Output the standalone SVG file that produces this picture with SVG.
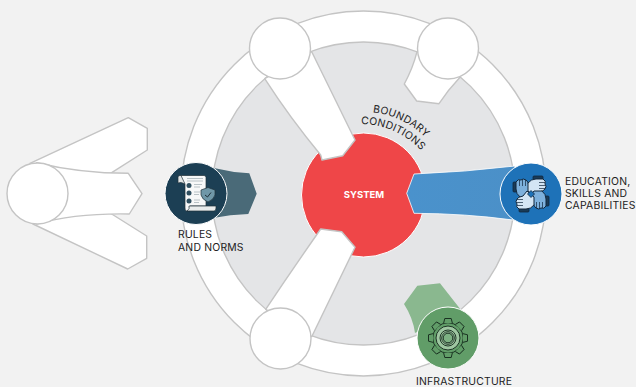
<svg xmlns="http://www.w3.org/2000/svg" width="636" height="387" viewBox="0 0 636 387">
<style>
.w{fill:#fff;stroke:#c4c4c4;stroke-width:1.4;stroke-linejoin:round}
.t{font-family:"Inter","Liberation Sans",sans-serif;font-size:10.400px;fill:#222;letter-spacing:.2px}
.c{fill:#1a3b57;stroke:#10263c;stroke-width:.8}
.ln{stroke:#b9c2c6;stroke-width:1;fill:none}
.g{fill:none;stroke:#12261a;stroke-width:.9}
.f{stroke:#10263c;stroke-width:.7;fill:none}
</style>
<defs>
<linearGradient id="eg" x1="0" x2="1" y1="0" y2="0"><stop offset="0" stop-color="#4a92cc"/><stop offset="1" stop-color="#4b90c8"/></linearGradient>
<g id="hand">
<rect class="c" x="-18" y="-12" width="3.500" height="10" rx="1"/>
<path stroke="#10263c" stroke-width="1" stroke-linejoin="round" d="M-15,-12 Q-13,-15.500 -10,-14 Q-8,-16 -5,-14 Q-3,-13 -2,-8 L3,-4 L-3,3 L-11,3 Q-15,0 -15,-5z"/>
<path class="f" d="M-11.500,-14 V-8 M-8.500,-14.500 V-8 M-5.500,-14 V-8"/>
</g>
<path id="tooth" d="M-4.400,-14.800 L-3.200,-19.500 L3.200,-19.500 L4.400,-14.800" fill="#619d68" stroke="#12261a" stroke-width=".9" stroke-linejoin="round"/>
</defs>
<rect width="636" height="387" fill="#f2f2f2"/>
<g id="boundary-ring">
<circle cx="363.500" cy="193.500" r="182.500" fill="#fff" stroke="#c4c4c4" stroke-width="1.400"/>
<circle cx="363.500" cy="193.500" r="151.500" fill="#e4e5e7" stroke="#c4c4c4" stroke-width="1.400"/>
</g>
<g id="system">
<circle cx="363.500" cy="195" r="62" fill="#ef4648" stroke="#fff" stroke-width="1"/>
<text x="364" y="198" text-anchor="middle" font-family="Inter,'Liberation Sans',sans-serif" font-size="9.500px" font-weight="700" fill="#fff">SYSTEM</text>
</g>
<g id="connectors">
<path class="w" d="M264.700,78.700 Q290,118 320.700,155 L322,160 L342.700,155.700 L355,140 L311.700,51.700z"/>
<path class="w" d="M417,51.700 Q413,68 404.300,84 L416.700,101 L439,103.700 Q448,90 460,77.300z"/>
<path class="w" d="M265.700,309.300 Q292,270 320.700,229 L341.700,231.700 L355,247.300 L311.700,336.700z"/>
<path class="w" d="M30,163.300 L128.300,117.700 L147.300,128.300 L147.300,150 L111.700,172.700 L80,190 L33,224 L127.700,269 L146.700,258.300 L146.700,236 L111.700,214 L60,190z"/>
<path class="w" d="M36.700,162.700 Q80,173.300 128.300,173.300 L142,193.700 L129.300,214 Q75,213 36.700,224z"/>
<path fill="#4a6a78" d="M215,168.300 Q232,172.500 249.300,173.300 L256.700,193.700 L248.300,214 Q230,214.500 213,218z"/>
<path fill="url(#eg)" stroke="#fff" stroke-width=".8" d="M414,174 L406.700,193.300 L414,213.300 Q465,213.500 513,220 L515,166 Q465,172 414,174z"/>
<path fill="#8ab88f" d="M404,304 L417.300,285.700 L440,283.300 L461,310 L415,333 Q413,318 404,304z"/>
</g>
<g id="top-left-node"><circle class="w" cx="280" cy="48.500" r="30.500"/></g>
<g id="top-right-node"><circle class="w" cx="448" cy="48.500" r="30.500"/></g>
<g id="bottom-left-node"><circle class="w" cx="280.500" cy="338.500" r="30.500"/></g>
<g id="left-node"><circle class="w" cx="37.500" cy="193.500" r="30.500"/></g>
<g id="rules">
<circle cx="196" cy="193.500" r="31" fill="#1c3f54" stroke="#fff" stroke-width="1"/>
<path d="M178,183 L178,177 Q178,175.500 180,175.500 L185,175.500 L185,184 Q181,181.500 178,183z" fill="#e3e6e6" stroke="#20303a" stroke-width=".7"/>
<path d="M181,175.500 H204 Q206,175.500 206,177.500 V206 H190 V211 H186 Q185,210 185,208 V184z" fill="#f7f8f8" stroke="#20303a" stroke-width=".7"/>
<path d="M189,206 H216 V208 Q216,211 214,211 H187 Q190,209 189,206z" fill="#e9ecec" stroke="#20303a" stroke-width=".7"/>
<path class="ln" d="M187,178.500 H203 M187,181 H203 M194,184.500 H202 M194,187 H200 M194,192 H200 M194,194.500 H199 M194,200 H200 M194,202.500 H199"/>
<circle cx="189" cy="185.500" r="2.500" fill="#2f4f60"/><circle cx="189" cy="193" r="2.500" fill="#2f4f60"/><circle cx="189" cy="201" r="2.500" fill="#2f4f60"/>
<path d="M208,187.500 L215,190 V195 Q214,199.500 208,202 Q202,199.500 201,195 V190z" fill="#6f97a8" stroke="#20303a" stroke-width=".7"/>
<path d="M205,195 L207.500,197 L211,192.500" stroke="#20303a" stroke-width="1" fill="none"/>
</g>
<g id="education">
<circle cx="531" cy="194" r="31" fill="#1e72b8" stroke="#fff" stroke-width="1"/>
<g transform="translate(531,194)">
<use href="#hand" fill="#7db0dc"/>
<use href="#hand" fill="#d3e5f4" transform="rotate(90)"/>
<use href="#hand" fill="#7db0dc" transform="rotate(180)"/>
<use href="#hand" fill="#d3e5f4" transform="rotate(270)"/>
<path d="M0,-3.500 L3.500,0 L0,3.500 L-3.500,0z" fill="#1e72b8" stroke="#10263c" stroke-width=".8"/>
</g>
</g>
<g id="infrastructure">
<circle cx="448" cy="338" r="31" fill="#619d68" stroke="#fff" stroke-width="1"/>
<g transform="translate(448,338)">
<circle class="g" r="15.200"/>
<use href="#tooth"/><use href="#tooth" transform="rotate(45)"/><use href="#tooth" transform="rotate(90)"/><use href="#tooth" transform="rotate(135)"/><use href="#tooth" transform="rotate(180)"/><use href="#tooth" transform="rotate(225)"/><use href="#tooth" transform="rotate(270)"/><use href="#tooth" transform="rotate(315)"/>
<circle r="12" fill="#9ec6a1" stroke="#12261a" stroke-width=".9"/>
<circle class="g" r="8"/><circle class="g" r="6.300"/><circle r="4.800" fill="#7db183" stroke="#12261a" stroke-width=".9"/>
</g>
</g>
<g id="labels">
<path id="a1" d="M372.700,112.300 A88,88 0 0 1 446,170" fill="none"/>
<path id="a2" d="M361,124 A84,84 0 0 1 438,177" fill="none"/>
<text class="t"><textPath href="#a1">BOUNDARY</textPath></text>
<text class="t"><textPath href="#a2">CONDITIONS</textPath></text>
<text class="t" x="178" y="238">RULES</text>
<text class="t" x="178" y="251">AND NORMS</text>
<text class="t" x="565" y="185">EDUCATION,</text>
<text class="t" x="565" y="197">SKILLS AND</text>
<text class="t" x="565" y="209">CAPABILITIES</text>
<text class="t" x="416" y="385">INFRASTRUCTURE</text>
</g>
</svg>
